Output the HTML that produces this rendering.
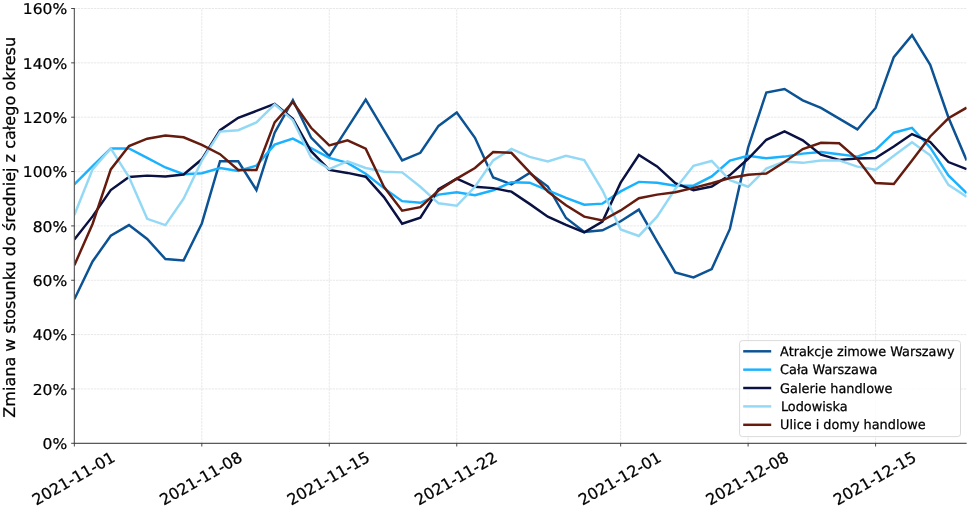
<!DOCTYPE html>
<html lang="pl"><head><meta charset="utf-8"><title>Zmiana w stosunku do średniej z całego okresu</title>
<style>
html,body{margin:0;padding:0;background:#fff;}
body{width:968px;height:510px;overflow:hidden;}
svg{display:block;font-family:"DejaVu Sans","Liberation Sans",sans-serif;text-rendering:geometricPrecision;}
  .tick{font-size:15.55px;fill:#000;stroke:#000;stroke-width:0.24px;}
.leg{font-size:13.15px;fill:#000;stroke:#000;stroke-width:0.25px;}
.grid line{stroke:#e0e0e0;stroke-width:0.75;stroke-dasharray:2.4 0.87;}
.ser polyline{fill:none;stroke-width:2.47;stroke-linejoin:miter;stroke-miterlimit:4;stroke-linecap:butt;}
</style></head><body>
<svg width="968" height="510" viewBox="0 0 968 510">
<rect width="968" height="510" fill="#fff"/>
<defs><clipPath id="ax"><rect x="74.35" y="8.5" width="892.29" height="434.80"/></clipPath></defs>

<g class="grid">
<line x1="74.35" y1="443.3" x2="74.35" y2="8.50"/>
<line x1="201.82" y1="443.3" x2="201.82" y2="8.50"/>
<line x1="329.29" y1="443.3" x2="329.29" y2="8.50"/>
<line x1="456.76" y1="443.3" x2="456.76" y2="8.50"/>
<line x1="620.65" y1="443.3" x2="620.65" y2="8.50"/>
<line x1="748.12" y1="443.3" x2="748.12" y2="8.50"/>
<line x1="875.59" y1="443.3" x2="875.59" y2="8.50"/>
<line x1="74.35" y1="443.30" x2="966.64" y2="443.30"/>
<line x1="74.35" y1="388.95" x2="966.64" y2="388.95"/>
<line x1="74.35" y1="334.60" x2="966.64" y2="334.60"/>
<line x1="74.35" y1="280.25" x2="966.64" y2="280.25"/>
<line x1="74.35" y1="225.90" x2="966.64" y2="225.90"/>
<line x1="74.35" y1="171.55" x2="966.64" y2="171.55"/>
<line x1="74.35" y1="117.20" x2="966.64" y2="117.20"/>
<line x1="74.35" y1="62.85" x2="966.64" y2="62.85"/>
<line x1="74.35" y1="8.50" x2="966.64" y2="8.50"/>
</g>
<g class="ser" clip-path="url(#ax)">
<polyline stroke="#0b5394" points="74.35,299.27 92.56,261.50 110.77,235.68 128.98,225.08 147.19,238.94 165.40,259.05 183.61,260.41 201.82,223.45 220.03,161.22 238.24,161.22 256.45,190.03 274.66,132.69 292.87,100.08 311.08,137.58 329.29,156.06 347.50,127.80 365.71,99.54 383.92,130.24 402.13,160.41 420.34,152.80 438.55,125.90 456.76,112.58 474.97,137.85 493.18,177.53 511.39,184.32 529.60,172.91 547.81,186.50 566.02,218.02 584.23,231.88 602.44,230.25 620.65,221.28 638.86,209.60 657.07,241.39 675.28,272.37 693.49,277.40 711.70,269.11 729.91,228.89 748.12,147.64 766.33,92.47 784.54,88.94 802.75,100.35 820.96,107.96 839.17,118.56 857.38,129.43 875.59,107.96 893.80,57.14 912.01,35.13 930.22,64.75 948.43,117.47 966.64,160.41"/>
<polyline stroke="#1ab2ff" points="74.35,184.32 92.56,166.12 110.77,148.45 128.98,148.45 147.19,157.96 165.40,167.47 183.61,174.27 201.82,173.18 220.03,168.02 238.24,171.01 256.45,165.57 274.66,144.65 292.87,138.67 311.08,148.18 329.29,157.96 347.50,162.85 365.71,173.72 383.92,188.13 402.13,201.17 420.34,202.80 438.55,194.65 456.76,192.20 474.97,195.19 493.18,190.30 511.39,182.15 529.60,182.69 547.81,190.30 566.02,197.91 584.23,204.70 602.44,203.62 620.65,191.39 638.86,181.88 657.07,182.69 675.28,185.68 693.49,185.68 711.70,176.44 729.91,160.68 748.12,155.79 766.33,158.23 784.54,156.60 802.75,153.61 820.96,151.98 839.17,154.16 857.38,156.60 875.59,149.81 893.80,132.69 912.01,127.80 930.22,147.64 948.43,175.35 966.64,193.02"/>
<polyline stroke="#0a1243" points="74.35,239.49 92.56,216.39 110.77,190.03 128.98,176.99 147.19,175.63 165.40,176.44 183.61,174.54 201.82,159.32 220.03,130.24 238.24,117.74 256.45,110.95 274.66,103.88 292.87,118.83 311.08,151.17 329.29,169.92 347.50,172.91 365.71,176.71 383.92,197.09 402.13,223.73 420.34,217.75 438.55,189.21 456.76,178.62 474.97,186.77 493.18,188.13 511.39,191.66 529.60,203.89 547.81,216.66 566.02,224.81 584.23,232.42 602.44,221.55 620.65,182.69 638.86,154.97 657.07,166.39 675.28,183.24 693.49,190.30 711.70,186.50 729.91,175.08 748.12,158.78 766.33,139.76 784.54,131.33 802.75,140.30 820.96,154.70 839.17,159.86 857.38,158.51 875.59,157.96 893.80,146.55 912.01,134.05 930.22,141.93 948.43,162.04 966.64,169.10"/>
<polyline stroke="#93d9f6" points="74.35,215.03 92.56,169.38 110.77,148.45 128.98,176.99 147.19,218.83 165.40,225.08 183.61,198.73 201.82,160.68 220.03,131.60 238.24,130.24 256.45,122.36 274.66,104.43 292.87,120.19 311.08,157.42 329.29,169.10 347.50,161.22 365.71,168.02 383.92,171.82 402.13,172.37 420.34,186.77 438.55,203.34 456.76,205.79 474.97,186.77 493.18,160.41 511.39,148.99 529.60,156.88 547.81,161.50 566.02,155.79 584.23,160.14 602.44,190.30 620.65,229.43 638.86,235.95 657.07,216.66 675.28,188.94 693.49,165.84 711.70,160.95 729.91,180.25 748.12,186.77 766.33,168.56 784.54,161.50 802.75,162.85 820.96,160.41 839.17,160.41 857.38,166.66 875.59,169.65 893.80,155.79 912.01,142.20 930.22,155.25 948.43,184.87 966.64,196.82"/>
<polyline stroke="#651b0d" points="74.35,265.30 92.56,224.00 110.77,169.38 128.98,146.01 147.19,138.67 165.40,135.41 183.61,137.31 201.82,144.92 220.03,154.16 238.24,169.92 256.45,169.92 274.66,122.36 292.87,101.98 311.08,127.80 329.29,145.46 347.50,140.30 365.71,148.72 383.92,186.77 402.13,210.68 420.34,207.15 438.55,190.57 456.76,178.62 474.97,168.02 493.18,151.98 511.39,152.80 529.60,172.09 547.81,191.66 566.02,205.25 584.23,216.66 602.44,220.47 620.65,210.41 638.86,198.18 657.07,194.65 675.28,192.20 693.49,187.86 711.70,183.24 729.91,178.07 748.12,174.81 766.33,173.45 784.54,162.04 802.75,148.99 820.96,142.74 839.17,143.29 857.38,159.05 875.59,182.96 893.80,184.05 912.01,160.41 930.22,136.49 948.43,118.29 966.64,107.69"/>
</g>
<line x1="74.35" y1="8.10" x2="74.35" y2="443.85" stroke="#5a5a5a" stroke-width="1.15"/>
<line x1="73.8" y1="443.3" x2="966.64" y2="443.3" stroke="#5a5a5a" stroke-width="1.15"/>
<g stroke="#333" stroke-width="0.9">
<line x1="74.35" y1="443.3" x2="74.35" y2="446.5"/>
<line x1="201.82" y1="443.3" x2="201.82" y2="446.5"/>
<line x1="329.29" y1="443.3" x2="329.29" y2="446.5"/>
<line x1="456.76" y1="443.3" x2="456.76" y2="446.5"/>
<line x1="620.65" y1="443.3" x2="620.65" y2="446.5"/>
<line x1="748.12" y1="443.3" x2="748.12" y2="446.5"/>
<line x1="875.59" y1="443.3" x2="875.59" y2="446.5"/>
<line x1="74.35" y1="443.30" x2="71.14999999999999" y2="443.30"/>
<line x1="74.35" y1="388.95" x2="71.14999999999999" y2="388.95"/>
<line x1="74.35" y1="334.60" x2="71.14999999999999" y2="334.60"/>
<line x1="74.35" y1="280.25" x2="71.14999999999999" y2="280.25"/>
<line x1="74.35" y1="225.90" x2="71.14999999999999" y2="225.90"/>
<line x1="74.35" y1="171.55" x2="71.14999999999999" y2="171.55"/>
<line x1="74.35" y1="117.20" x2="71.14999999999999" y2="117.20"/>
<line x1="74.35" y1="62.85" x2="71.14999999999999" y2="62.85"/>
<line x1="74.35" y1="8.50" x2="71.14999999999999" y2="8.50"/>
</g>
<g class="tick" style="font-size:14.8px" text-anchor="end">
<text transform="translate(67.2,449.00) scale(1.05,1)">0%</text>
<text transform="translate(67.2,394.65) scale(1.05,1)">20%</text>
<text transform="translate(67.2,340.30) scale(1.05,1)">40%</text>
<text transform="translate(67.2,285.95) scale(1.05,1)">60%</text>
<text transform="translate(67.2,231.60) scale(1.05,1)">80%</text>
<text transform="translate(67.2,177.25) scale(1.05,1)">100%</text>
<text transform="translate(67.2,122.90) scale(1.05,1)">120%</text>
<text transform="translate(67.2,68.55) scale(1.05,1)">140%</text>
<text transform="translate(67.2,14.20) scale(1.05,1)">160%</text>
</g>
<g class="tick" text-anchor="middle">
<text transform="translate(73.25,478.2) scale(1.02,1) rotate(-30)" y="5.8">2021-11-01</text>
<text transform="translate(200.72,478.2) scale(1.02,1) rotate(-30)" y="5.8">2021-11-08</text>
<text transform="translate(328.19,478.2) scale(1.02,1) rotate(-30)" y="5.8">2021-11-15</text>
<text transform="translate(455.66,478.2) scale(1.02,1) rotate(-30)" y="5.8">2021-11-22</text>
<text transform="translate(619.55,478.2) scale(1.02,1) rotate(-30)" y="5.8">2021-12-01</text>
<text transform="translate(747.02,478.2) scale(1.02,1) rotate(-30)" y="5.8">2021-12-08</text>
<text transform="translate(874.49,478.2) scale(1.02,1) rotate(-30)" y="5.8">2021-12-15</text>
</g>
<text class="tick" style="font-size:16.06px" text-anchor="middle" transform="translate(15.0,227.3) rotate(-90)">Zmiana w stosunku do średniej z całego okresu</text>
<rect x="739.6" y="340.6" width="220.9" height="96.0" rx="2.8" ry="2.8" fill="#fff" fill-opacity="0.8" stroke="#d6d6d6" stroke-width="0.9"/>
<line x1="743.2" y1="351.3" x2="771.2" y2="351.3" stroke="#0b5394" stroke-width="2.47"/>
<text class="leg" transform="translate(780.1,355.80) scale(0.978,1)">Atrakcje zimowe Warszawy</text>
<line x1="743.2" y1="369.65" x2="771.2" y2="369.65" stroke="#1ab2ff" stroke-width="2.47"/>
<text class="leg" transform="translate(780.1,374.15) scale(0.978,1)">Cała Warszawa</text>
<line x1="743.2" y1="388.0" x2="771.2" y2="388.0" stroke="#0a1243" stroke-width="2.47"/>
<text class="leg" transform="translate(780.1,392.50) scale(0.978,1)">Galerie handlowe</text>
<line x1="743.2" y1="406.4" x2="771.2" y2="406.4" stroke="#93d9f6" stroke-width="2.47"/>
<text class="leg" transform="translate(780.9,410.90) scale(0.978,1)">Lodowiska</text>
<line x1="743.2" y1="424.8" x2="771.2" y2="424.8" stroke="#651b0d" stroke-width="2.47"/>
<text class="leg" transform="translate(780.1,429.30) scale(0.978,1)">Ulice i domy handlowe</text>
</svg></body></html>
